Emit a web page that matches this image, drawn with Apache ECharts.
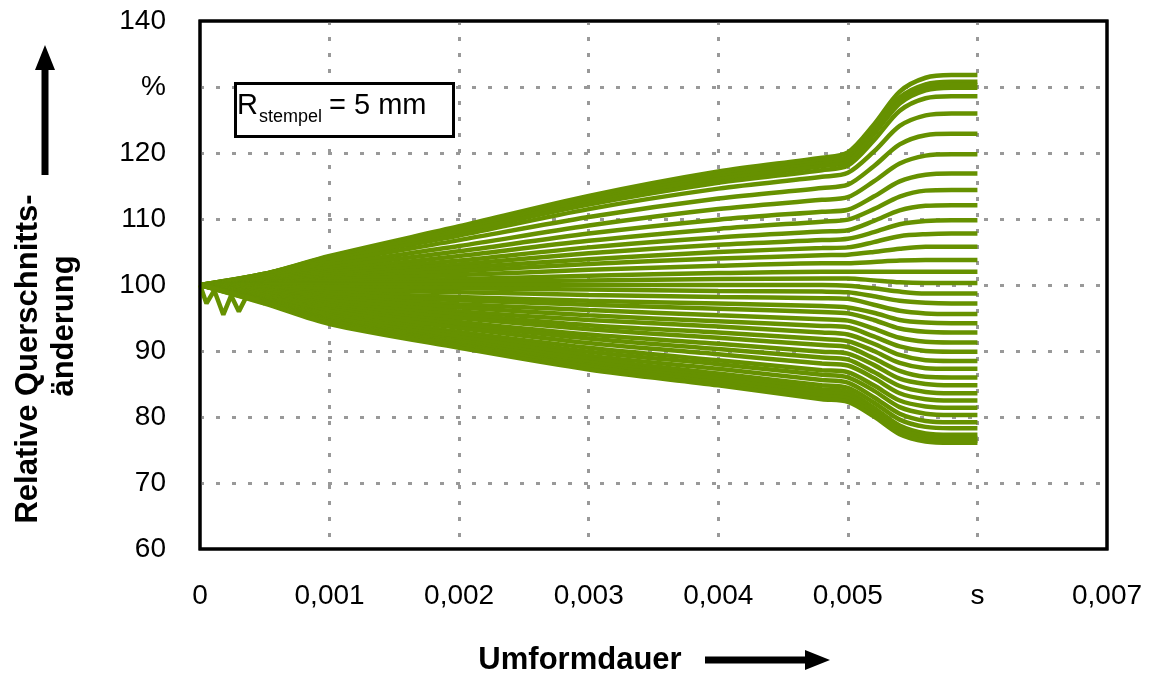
<!DOCTYPE html>
<html>
<head>
    <meta charset="utf-8">
    <title>Relative Querschnittsänderung</title>
    <script src="https://cdn.jsdelivr.net/npm/echarts@6/dist/echarts.min.js"></script>
    <style>
        html, body { margin: 0; padding: 0; background: #fff; }
        #main { width: 1154px; height: 676px; }
    </style>
</head>
<body>
    <div id="main"></div>
    <script type="text/javascript">

        var times = [0, 0.0005, 0.001, 0.002, 0.003, 0.004, 0.0048, 0.005, 0.0052, 0.0054, 0.0056, 0.0058, 0.006];

        var xTickLabels = ['0', '0,001', '0,002', '0,003', '0,004', '0,005', 's', '0,007'];
        var yTickLabels = ['60', '70', '80', '90', '100', '110', '120', '%', '140'];

        // relative Querschnittsänderung in %, eine Zeile pro Kurve (von oben nach unten)
        var curves = [
            [100, 101.7, 104.4, 108.9, 113.5, 117.2, 119.3, 120.1, 124.3, 129.3, 131.4, 131.8, 131.8],
            [100, 101.7, 104.3, 108.6, 113.2, 116.7, 118.8, 119.5, 123.6, 128.4, 130.4, 130.8, 130.8],
            [100, 101.7, 104.2, 108.5, 112.9, 116.4, 118.4, 119.1, 123.2, 127.9, 129.9, 130.3, 130.3],
            [100, 101.6, 104.1, 108.3, 112.6, 116.0, 118.0, 118.7, 122.8, 127.5, 129.5, 129.9, 129.9],
            [100, 101.6, 104.0, 108.0, 112.2, 115.5, 117.4, 118.1, 121.9, 126.4, 128.3, 128.6, 128.6],
            [100, 101.5, 103.8, 107.5, 111.5, 114.6, 116.4, 117.0, 120.2, 124.1, 125.7, 126.0, 126.0],
            [100, 101.3, 103.4, 106.8, 110.3, 113.1, 114.7, 115.2, 118.0, 121.3, 122.7, 122.9, 122.9],
            [100, 101.2, 103.0, 105.9, 109.0, 111.5, 112.9, 113.3, 115.7, 118.4, 119.6, 119.8, 119.8],
            [100, 101.0, 102.6, 105.1, 107.8, 109.9, 111.1, 111.4, 113.4, 115.7, 116.7, 116.9, 116.9],
            [100, 100.9, 102.2, 104.4, 106.7, 108.5, 109.6, 109.9, 111.5, 113.4, 114.3, 114.4, 114.4],
            [100, 100.7, 101.9, 103.7, 105.7, 107.2, 108.1, 108.3, 109.7, 111.3, 112.0, 112.1, 112.1],
            [100, 100.6, 101.6, 103.1, 104.8, 106.1, 106.8, 107.0, 108.0, 109.2, 109.7, 109.8, 109.8],
            [100, 100.5, 101.3, 102.6, 103.9, 105.0, 105.6, 105.7, 106.5, 107.4, 107.7, 107.8, 107.8],
            [100, 100.4, 101.0, 102.1, 103.2, 104.0, 104.5, 104.6, 105.0, 105.5, 105.8, 105.8, 105.8],
            [100, 100.3, 100.8, 101.5, 102.3, 102.9, 103.3, 103.3, 103.5, 103.7, 103.8, 103.8, 103.8],
            [100, 100.2, 100.5, 100.9, 101.4, 101.8, 102.0, 102.0, 102.0, 102.0, 102.0, 102.0, 102.0],
            [100, 100.1, 100.2, 100.5, 100.7, 100.9, 101.0, 101.0, 100.7, 100.4, 100.3, 100.3, 100.3],
            [100, 100.0, 100.0, 100.0, 100.0, 100.0, 100.0, 99.9, 99.5, 99.0, 98.7, 98.7, 98.7],
            [100, 99.8, 99.7, 99.5, 99.3, 99.1, 99.0, 98.9, 98.3, 97.6, 97.3, 97.2, 97.2],
            [100, 99.7, 99.3, 98.9, 98.5, 98.2, 98.0, 97.9, 97.0, 96.1, 95.7, 95.6, 95.6],
            [100, 99.5, 98.9, 98.2, 97.6, 97.2, 96.8, 96.6, 95.8, 94.7, 94.3, 94.2, 94.2],
            [100, 99.3, 98.6, 97.7, 97.0, 96.4, 95.9, 95.7, 94.7, 93.4, 92.9, 92.8, 92.8],
            [100, 99.2, 98.2, 97.1, 96.2, 95.4, 94.8, 94.6, 93.4, 92.0, 91.4, 91.3, 91.3],
            [100, 99.0, 97.9, 96.6, 95.4, 94.5, 93.8, 93.6, 92.2, 90.7, 90.0, 89.9, 89.9],
            [100, 98.8, 97.6, 96.0, 94.7, 93.7, 92.8, 92.5, 91.1, 89.4, 88.6, 88.5, 88.5],
            [100, 98.7, 97.2, 95.5, 93.9, 92.8, 91.8, 91.5, 90.0, 88.2, 87.4, 87.3, 87.3],
            [100, 98.5, 96.9, 95.0, 93.3, 92.0, 90.9, 90.6, 88.9, 87.0, 86.1, 86.0, 86.0],
            [100, 98.4, 96.6, 94.4, 92.5, 91.1, 89.9, 89.6, 87.9, 85.8, 85.0, 84.8, 84.8],
            [100, 98.2, 96.3, 94.0, 91.9, 90.3, 89.0, 88.7, 86.8, 84.7, 83.8, 83.6, 83.6],
            [100, 98.1, 96.0, 93.5, 91.2, 89.5, 88.1, 87.8, 85.9, 83.6, 82.7, 82.5, 82.5],
            [100, 97.9, 95.6, 92.9, 90.5, 88.6, 87.1, 86.8, 84.8, 82.5, 81.6, 81.4, 81.4],
            [100, 97.8, 95.4, 92.5, 89.9, 88.0, 86.4, 86.0, 84.0, 81.5, 80.5, 80.3, 80.3],
            [100, 97.7, 95.1, 92.1, 89.3, 87.3, 85.6, 85.2, 83.0, 80.5, 79.4, 79.2, 79.2],
            [100, 97.6, 94.8, 91.6, 88.8, 86.6, 84.8, 84.4, 82.2, 79.6, 78.5, 78.3, 78.3],
            [100, 97.5, 94.6, 91.3, 88.3, 86.1, 84.2, 83.8, 81.4, 78.7, 77.5, 77.3, 77.3],
            [100, 97.4, 94.5, 91.0, 87.9, 85.7, 83.7, 83.3, 80.9, 78.2, 77.0, 76.8, 76.8],
            [100, 97.3, 94.3, 90.8, 87.6, 85.2, 83.2, 82.8, 80.5, 77.8, 76.6, 76.4, 76.4],
            [100, 97.2, 94.1, 90.5, 87.2, 84.8, 82.7, 82.3, 80.1, 77.4, 76.3, 76.1, 76.1]
        ];

        // Einschwingzacken am Anfang der unteren Kurve
        var spikeTimes = [0, 0.00005, 0.00011, 0.00018, 0.00024, 0.0003, 0.00036, 0.0005];
        var spikeValues = [100, 97.2, 99.2, 95.5, 98.4, 96.0, 98.3, 97.2];

        var lineColor = '#669100';
        var fontName = '"Liberation Sans", Arial, sans-serif';

        var myChart = echarts.init(document.getElementById('main'), null, {renderer: 'canvas'});

        function pairs(xs, ys) {
            var out = [];
            for (var i = 0; i < xs.length; i++) out.push([xs[i], ys[i]]);
            return out;
        }

        var series = curves.map(function (c) {
            return {
                type: 'line',
                data: pairs(times, c),
                showSymbol: false,
                smooth: 0.3,
                silent: true,
                lineStyle: {color: lineColor, width: 4.5}
            };
        });
        series.push({
            type: 'line',
            data: pairs(spikeTimes, spikeValues),
            showSymbol: false,
            silent: true,
            lineStyle: {color: lineColor, width: 4.5}
        });

        var gridLine = {
            show: true, showMinLine: false, showMaxLine: false,
            lineStyle: {color: '#999', width: 3, type: [4, 12]}
        };

        var option = {
            animation: false,
            backgroundColor: '#fff',
            grid: {
                left: 200, right: 47, top: 21, bottom: 127,
                show: true, borderColor: '#000', borderWidth: 3, backgroundColor: 'transparent'
            },
            xAxis: {
                type: 'value',
                min: 0, max: 0.007, interval: 0.001,
                axisLine: {show: false},
                axisTick: {show: false},
                splitLine: gridLine,
                axisLabel: {
                    margin: 33,
                    fontSize: 28,
                    fontFamily: fontName,
                    color: '#000',
                    formatter: function (v) { return xTickLabels[Math.round(v / 0.001)]; }
                }
            },
            yAxis: {
                type: 'value',
                min: 60, max: 140, interval: 10,
                axisLine: {show: false},
                axisTick: {show: false},
                splitLine: gridLine,
                axisLabel: {
                    margin: 34,
                    fontSize: 28,
                    fontFamily: fontName,
                    color: '#000',
                    formatter: function (v) { return yTickLabels[Math.round((v - 60) / 10)]; }
                }
            },
            graphic: [
                // Rahmen über den Gitterlinien
                {type: 'rect', shape: {x: 200, y: 21, width: 907, height: 528}, silent: true, z: 50,
                 style: {fill: 'none', stroke: '#000', lineWidth: 3}},
                // Kasten mit Stempelradius
                {type: 'rect', left: 234, top: 82, shape: {width: 218, height: 53},
                 style: {fill: '#fff', stroke: '#000', lineWidth: 3}, z: 10},
                {type: 'text', x: 237, y: 106, z: 11,
                 style: {text: 'R', font: '29px ' + fontName, fill: '#000', textVerticalAlign: 'middle'}},
                {type: 'text', x: 259, y: 117, z: 11,
                 style: {text: 'stempel', font: '18px ' + fontName, fill: '#000', textVerticalAlign: 'middle'}},
                {type: 'text', x: 329, y: 106, z: 11,
                 style: {text: '= 5 mm', font: '29px ' + fontName, fill: '#000', textVerticalAlign: 'middle'}},
                // y-Achsentitel
                {type: 'text', x: 28, y: 359, rotation: Math.PI / 2, z: 11,
                 style: {text: 'Relative Querschnitts-', font: 'bold 31px ' + fontName, fill: '#000',
                         textAlign: 'center', textVerticalAlign: 'middle'}},
                {type: 'text', x: 64, y: 326, rotation: Math.PI / 2, z: 11,
                 style: {text: 'änderung', font: 'bold 31px ' + fontName, fill: '#000',
                         textAlign: 'center', textVerticalAlign: 'middle'}},
                {type: 'rect', shape: {x: 41.5, y: 66, width: 7, height: 109}, style: {fill: '#000'}},
                {type: 'polygon', shape: {points: [[35, 70], [55, 70], [45, 45]]}, style: {fill: '#000'}},
                // x-Achsentitel
                {type: 'text', x: 580, y: 660, z: 11,
                 style: {text: 'Umformdauer', font: 'bold 31px ' + fontName, fill: '#000',
                         textAlign: 'center', textVerticalAlign: 'middle'}},
                {type: 'rect', shape: {x: 705, y: 656.5, width: 102, height: 7}, style: {fill: '#000'}},
                {type: 'polygon', shape: {points: [[805, 650], [805, 670], [830, 660]]}, style: {fill: '#000'}}
            ],
            series: series
        };

        myChart.setOption(option);
    </script>
</body>
</html>
